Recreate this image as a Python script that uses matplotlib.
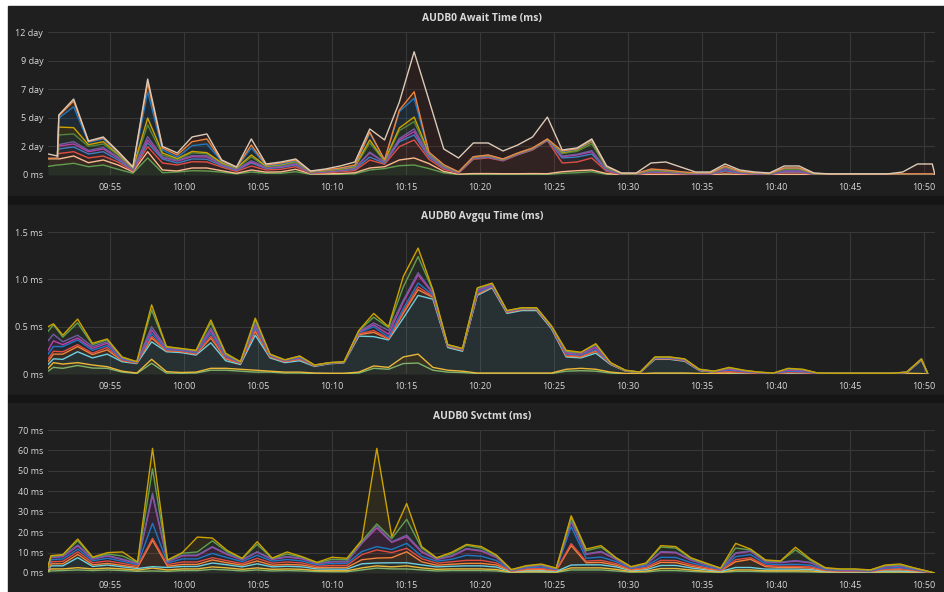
import numpy as np
import pandas as pd
import matplotlib
matplotlib.use("Agg")
import matplotlib.pyplot as plt
import matplotlib.dates as mdates
from matplotlib.patches import Rectangle
from matplotlib.ticker import FuncFormatter, FixedLocator

plt.rcParams['font.family'] = ['Open Sans', 'DejaVu Sans']

DAY = '2017-06-01 '

def build_times(lead, start, n, step_s, trail):
    reg = pd.date_range(DAY + start, periods=n, freq=pd.Timedelta(seconds=step_s))
    idx = pd.DatetimeIndex([pd.Timestamp(DAY + s) for s in lead]).append(reg)
    return idx.append(pd.DatetimeIndex([pd.Timestamp(DAY + trail)]))

# ---------------- Panel 1: AUDB0 Await Time (values in 1e6 ms) ----------------
await_times = build_times(['09:50:49', '09:51:27'], '09:51:33', 60, 60, '10:50:44')
await_series = {
    'green':  [60, 70,
               70, 82, 58, 70, 40, 12, 119, 16, 21, 30,
               28, 20, 8, 21, 12, 12, 23, 5, 4, 5,
               8, 35, 45, 65, 70, 45, 15, 3, 5, 5,
               4, 4, 4, 4, 12, 16, 23, 5, 1, 1,
               2, 2, 1, 1, 1, 3, 2, 1, 1, 2,
               2, 1, 1, 1, 1, 1, 1, 1, 1, 1, 0],
    'peach':  [55, 45,
               42, 51, 28, 35, 30, 10, 44, 19, 7, 19,
               21, 10, 4, 14, 8, 10, 17, 3, 4, 5,
               8, 14, 13, 40, 49, 35, 10, 3, 5, 5,
               5, 5, 6, 5, 11, 14, 12, 5, 1, 1,
               3, 3, 2, 1, 1, 4, 2, 1, 1, 3,
               3, 1, 1, 1, 1, 1, 1, 1, 1, 1, 0],
    'red':    [0, 0,
               38, 30, 33, 28, 20, 6, 35, 49, 42, 44,
               42, 25, 13, 28, 15, 18, 18, 4, 8, 12,
               15, 56, 17, 93, 126, 30, 15, 6, 100, 110,
               90, 132, 165, 232, 61, 61, 84, 15, 2, 2,
               10, 8, 5, 3, 3, 16, 6, 4, 2, 12,
               12, 2, 1, 1, 1, 1, 1, 1, 1, 1, 0],
    'blue':   [0, 0,
               32, 33, 28, 30, 15, 5, 26, 28, 14, 19,
               19, 10, 7, 21, 10, 12, 12, 3, 5, 7,
               10, 21, 7, 35, 35, 15, 10, 3, 5, 5,
               3, 3, 3, 2, 35, 35, 28, 8, 1, 1,
               5, 4, 3, 2, 2, 7, 3, 2, 1, 5,
               5, 1, 1, 1, 1, 1, 1, 1, 1, 1, 0],
    'magenta': [0, 0,
               21, 21, 16, 19, 13, 4, 21, 10, 14, 16,
               16, 7, 6, 7, 5, 6, 8, 2, 3, 4,
               6, 28, 6, 12, 23, 10, 5, 2, 5, 5,
               3, 3, 3, 2, 9, 14, 16, 5, 1, 1,
               4, 3, 2, 1, 1, 12, 4, 2, 1, 6,
               6, 1, 0, 0, 0, 0, 0, 0, 0, 0, 0],
    'violet': [0, 0,
               10, 16, 9, 10, 7, 3, 23, 4, 4, 8,
               9, 4, 3, 9, 3, 4, 4, 1, 2, 2,
               3, 6, 2, 10, 19, 5, 3, 1, 2, 2,
               1, 1, 1, 1, 5, 5, 7, 3, 1, 1,
               2, 2, 1, 1, 1, 3, 1, 1, 1, 2,
               2, 1, 0, 0, 0, 0, 0, 0, 0, 0, 0],
    'green2': [0, 0,
               67, 54, 28, 25, 13, 4, 82, 14, 6, 19,
               13, 6, 4, 26, 5, 6, 8, 2, 3, 4,
               6, 64, 6, 55, 51, 8, 4, 1, 2, 3,
               2, 2, 2, 2, 17, 20, 47, 8, 1, 1,
               5, 4, 3, 2, 2, 10, 4, 2, 1, 10,
               10, 1, 1, 1, 1, 1, 1, 1, 1, 1, 0],
    'yellow': [0, 0,
               55, 44, 12, 16, 8, 3, 48, 14, 7, 10,
               8, 4, 3, 14, 4, 4, 6, 2, 2, 3,
               4, 21, 4, 19, 32, 4, 3, 1, 1, 2,
               1, 1, 1, 1, 6, 10, 16, 5, 1, 1,
               4, 3, 2, 1, 1, 3, 2, 1, 1, 6,
               6, 1, 1, 1, 1, 1, 1, 1, 1, 1, 0],
    'blue2':  [0, 0,
               63, 146, 16, 19, 9, 3, 184, 21, 10, 40,
               61, 9, 3, 49, 4, 5, 4, 2, 3, 4,
               5, 49, 3, 114, 131, 3, 3, 1, 2, 2,
               2, 2, 2, 2, 6, 5, 7, 3, 1, 1,
               4, 3, 2, 1, 1, 2, 1, 1, 1, 2,
               2, 1, 1, 1, 1, 1, 1, 1, 1, 1, 0],
    'orange': [0, 0,
               15, 40, 6, 8, 5, 3, 61, 14, 15, 28,
               35, 5, 3, 21, 4, 7, 5, 2, 2, 3,
               5, 7, 3, 11, 46, 5, 4, 1, 1, 1,
               1, 1, 2, 1, 6, 4, 6, 3, 1, 1,
               3, 3, 2, 1, 1, 2, 1, 1, 1, 1,
               1, 1, 0, 0, 0, 0, 0, 1, 1, 1, 0],
    'beige':  [32, 18,
               7, 14, 4, 6, 5, 3, 28, 11, 14, 33,
               35, 5, 2, 42, 7, 7, 7, 2, 6, 14,
               21, 21, 139, 56, 280, 364, 110, 97, 96, 84,
               56, 56, 77, 153, 7, 5, 6, 3, 3, 3,
               42, 56, 33, 7, 7, 15, 9, 5, 3, 14,
               14, 3, 1, 1, 1, 1, 1, 13, 69, 69, 0],
}
await_lines = ['#629E51', '#F9BA8F', '#E24D42', '#447EBC', '#BA43A9', '#705DA0',
               '#508642', '#CCA300', '#1F78C1', '#EF843C', '#DCCAB6']
await_fills = ['#629E51', '#E0752D', '#E24D42', '#447EBC', '#BA43A9', '#705DA0',
               '#508642', '#CCA300', '#1F78C1', '#EF843C', '#6A1A14']
await_alpha = [0.14, 0.12, 0.10, 0.12, 0.12, 0.12, 0.14, 0.12, 0.13, 0.12, 0.15]

# ---------------- Panel 2: AUDB0 Avgqu Time (ms) ----------------
avgqu_times = build_times(['09:50:49', '09:51:11'], '09:51:49', 59, 60, '10:50:15')
avgqu_series = {
    'green':  [.03, .07,
               .06, .09, .063, .06, .02, .005, .113, .01, .008, .01,
               .04, .04, .03, .02, .02, .01, .01, .005, .004, .004,
               .01, .06, .05, .11, .116, .04, .02, .015, .005, .005,
               .005, .005, .005, .005, .03, .035, .03, .01, .003, .002,
               .005, .005, .005, .003, .002, .003, .002, .001, .001, .002,
               .002, .001, .001, .001, .001, .001, .001, .002, .002, 0],
    'yellow': [.03, .05,
               .045, .03, .032, .017, .01, .005, .042, .015, .008, .01,
               .02, .02, .02, .02, .01, .01, .01, .005, .004, .004,
               .01, .025, .02, .07, .094, .03, .02, .015, .005, .005,
               .005, .005, .005, .005, .02, .025, .02, .01, .003, .002,
               .005, .005, .005, .003, .002, .003, .002, .001, .001, .002,
               .002, .001, .001, .001, .001, .001, .001, .006, .003, 0],
    'cyan':   [.04, .04,
               .05, .115, .075, .133, .10, .10, .185, .21, .21, .18,
               .27, .08, .05, .37, .14, .10, .12, .07, .10, .11,
               .38, .31, .29, .41, .62, .72, .24, .21, .82, .90,
               .63, .66, .66, .47, .13, .11, .17, .08, .025, .01,
               .145, .145, .125, .03, .015, .01, .005, .003, .002, .005,
               .004, .002, .002, .002, .002, .002, .002, .005, .14, 0],
    'orange': [.03, .05,
               .055, .055, .035, .045, .01, .005, .04, .01, .01, .01,
               .05, .02, .01, .04, .01, .01, .015, .005, .004, .004,
               .015, .045, .01, .05, .06, .02, .01, .01, .01, .01,
               .01, .01, .01, .01, .01, .01, .02, .005, .002, .001,
               .005, .005, .005, .003, .002, .005, .004, .002, .001, .005,
               .004, .001, .001, .001, .001, .001, .001, .002, .003, 0],
    'red':    [.03, .03,
               .025, .02, .015, .025, .005, .003, .02, .005, .005, .005,
               .02, .01, .005, .02, .005, .004, .005, .002, .002, .002,
               .01, .02, .005, .02, .03, .01, .005, .005, .01, .005,
               .005, .005, .005, .005, .01, .01, .01, .003, .001, .001,
               .003, .003, .003, .002, .002, .005, .004, .002, .001, .005,
               .004, .001, .001, .001, .001, .001, .001, .001, .002, 0],
    'blue':   [.05, .05,
               .055, .05, .03, .02, .01, .004, .03, .01, .008, .01,
               .03, .015, .005, .025, .008, .006, .01, .003, .002, .002,
               .01, .04, .015, .03, .04, .015, .005, .005, .01, .005,
               .005, .005, .005, .005, .01, .01, .01, .003, .002, .001,
               .004, .004, .004, .002, .002, .015, .008, .004, .001, .01,
               .008, .001, .001, .001, .001, .001, .001, .001, .002, 0],
    'magenta': [.04, .06,
               .02, .02, .02, .025, .01, .004, .035, .01, .008, .01,
               .03, .01, .004, .02, .007, .004, .01, .002, .002, .002,
               .01, .02, .03, .07, .086, .015, .005, .005, .02, .01,
               .003, .004, .004, .004, .01, .01, .02, .003, .001, .001,
               .005, .005, .005, .003, .002, .01, .006, .003, .001, .012,
               .01, .001, .001, .001, .001, .001, .001, .001, .002, 0],
    'violet': [.10, .07,
               .03, .03, .02, .015, .005, .002, .035, .005, .005, .005,
               .025, .005, .002, .015, .003, .002, .005, .001, .001, .001,
               .005, .02, .04, .02, .024, .01, .002, .002, .01, .01,
               .003, .002, .002, .002, .01, .01, .02, .003, .001, .001,
               .004, .004, .004, .002, .002, .01, .005, .002, .001, .01,
               .008, .001, 0, 0, 0, 0, 0, .001, .002, 0],
    'green2': [.10, .10,
               .05, .13, .02, .02, .005, .001, .176, .01, .005, .007,
               .055, .01, .002, .04, .004, .002, .003, .001, .0005, .0005,
               .007, .06, .03, .14, .17, .02, .002, .002, .015, .005,
               .002, .002, .002, .002, .01, .005, .015, .002, .001, .0005,
               .002, .002, .002, .001, .0005, .005, .002, .001, .0005, .005,
               .004, .0005, 0, 0, 0, 0, 0, .0005, .002, 0],
    'yellow2': [.05, .01,
               .02, .04, .015, .01, .005, .001, .054, .005, .003, .003,
               .03, .01, .002, .02, .003, .002, .002, .001, .0005, .0005,
               .003, .04, .01, .11, .09, .01, .001, .001, .005, .005,
               .002, .002, .002, .002, .01, .005, .005, .001, .001, .0005,
               .002, .002, .002, .001, .0005, .004, .002, .001, .0005, .004,
               .004, .0005, 0, 0, 0, 0, 0, .0005, .002, 0],
}

# ---------------- Panel 3: AUDB0 Svctmt (ms) ----------------
svc_times = build_times(['09:50:49', '09:51:01'], '09:51:49', 59, 60.6, '10:50:42')
svc_series = {
    'green':  [0.5, 1.0,
               1.2, 1.5, 1.2, 1.5, 1.2, 0.8, 1.0, 0.8, 1.2, 1.2,
               1.8, 1.5, 1.0, 1.5, 1.0, 1.2, 1.0, 0.7, 0.6, 0.6,
               1.5, 2.4, 2.0, 2.0, 1.5, 1.0, 1.2, 1.2, 1.2, 1.0,
               0.2, 0.4, 0.4, 0.3, 1.5, 1.5, 1.5, 1.0, 0.4, 0.5,
               1.2, 1.2, 0.8, 0.5, 0.3, 0.8, 0.8, 0.6, 0.6, 0.6,
               0.5, 0.3, 0.2, 0.2, 0.15, 0.3, 0.3, 0.2, 0.05, 0],
    'yellow': [0.5, 1.0,
               0.8, 1.1, 0.8, 0.9, 0.8, 0.6, 1.4, 0.7, 0.8, 0.8,
               1.2, 1.0, 0.8, 1.0, 0.8, 0.8, 0.8, 0.5, 0.5, 0.5,
               1.0, 1.1, 1.0, 1.5, 1.0, 0.8, 0.8, 0.8, 0.8, 0.7,
               0.2, 0.3, 0.3, 0.2, 1.0, 1.0, 1.0, 0.8, 0.3, 0.4,
               1.0, 1.0, 0.7, 0.4, 0.2, 0.7, 0.7, 0.5, 0.5, 0.5,
               0.5, 0.2, 0.2, 0.2, 0.15, 0.3, 0.3, 0.2, 0.05, 0],
    'cyan':   [0.5, 1.5,
               1.5, 4.9, 1.2, 1.5, 1.0, 0.8, 0.7, 1.2, 1.2, 1.2,
               1.9, 1.5, 1.2, 2.0, 1.2, 1.3, 1.2, 0.8, 0.8, 0.8,
               2.0, 1.4, 2.0, 1.5, 1.5, 1.2, 1.3, 1.5, 1.5, 1.2,
               0.2, 0.5, 0.5, 0.3, 1.4, 1.5, 1.5, 1.2, 0.5, 0.7,
               1.5, 1.5, 1.0, 0.7, 0.3, 1.2, 1.2, 0.8, 0.8, 0.8,
               0.7, 0.3, 0.2, 0.2, 0.2, 0.4, 0.4, 0.3, 0.1, 0],
    'orange': [0.3, 1.0,
               1.0, 1.6, 0.8, 0.8, 0.7, 0.5, 12.9, 0.6, 1.0, 1.0,
               1.5, 1.0, 0.8, 1.4, 0.8, 0.9, 0.9, 0.6, 0.8, 0.8,
               2.0, 2.4, 2.5, 5.4, 1.5, 0.8, 1.0, 1.2, 1.2, 1.0,
               0.2, 0.4, 0.5, 0.3, 9.5, 1.0, 1.2, 0.8, 0.3, 0.6,
               1.5, 1.4, 0.8, 0.5, 0.3, 2.8, 4.0, 1.2, 0.8, 0.8,
               0.7, 0.3, 0.2, 0.2, 0.15, 0.5, 0.6, 0.3, 0.05, 0],
    'red':    [0.3, 1.0,
               1.2, 1.3, 1.0, 1.2, 1.0, 0.7, 1.0, 0.8, 1.2, 1.2,
               1.1, 1.0, 0.8, 1.3, 1.0, 1.2, 1.0, 0.7, 1.0, 1.0,
               2.5, 4.0, 2.5, 1.7, 1.5, 1.0, 1.2, 1.5, 1.5, 1.0,
               0.2, 0.5, 0.6, 0.3, 1.0, 0.8, 1.0, 0.8, 0.4, 0.6,
               1.0, 1.0, 0.8, 0.6, 0.3, 1.0, 0.8, 0.6, 0.6, 0.6,
               0.6, 0.3, 0.2, 0.2, 0.15, 0.5, 0.6, 0.3, 0.05, 0],
    'blue':   [0.3, 1.0,
               1.2, 1.3, 1.0, 1.3, 1.0, 0.7, 7.3, 0.8, 1.5, 1.5,
               2.1, 1.5, 1.0, 1.5, 1.0, 1.2, 1.0, 0.7, 1.0, 1.0,
               1.5, 1.6, 1.5, 2.4, 1.2, 1.0, 1.2, 2.5, 2.0, 1.2,
               0.2, 0.5, 0.6, 0.3, 8.3, 1.4, 1.6, 1.0, 0.4, 0.6,
               1.5, 1.5, 1.0, 0.6, 0.3, 1.5, 1.5, 0.8, 0.8, 1.0,
               0.8, 0.3, 0.2, 0.2, 0.15, 0.4, 0.5, 0.3, 0.05, 0],
    'magenta': [0.2, 1.0,
               1.1, 1.5, 0.8, 1.1, 0.8, 0.5, 13.7, 0.6, 1.5, 1.6,
               3.0, 1.5, 0.8, 1.5, 0.8, 1.2, 1.0, 0.6, 0.8, 0.8,
               4.0, 9.1, 3.5, 3.3, 2.0, 0.8, 1.4, 3.0, 2.5, 1.5,
               0.2, 0.5, 0.7, 0.3, 2.3, 1.9, 2.5, 1.0, 0.4, 0.7,
               2.5, 2.3, 1.2, 0.8, 0.3, 1.6, 1.6, 0.9, 1.0, 1.5,
               1.2, 0.4, 0.3, 0.3, 0.2, 0.6, 0.7, 0.4, 0.1, 0],
    'violet': [0.1, 0.3,
               0.3, 0.5, 0.3, 0.3, 0.3, 0.2, 1.0, 0.2, 0.3, 0.3,
               0.3, 0.3, 0.2, 0.2, 0.3, 0.3, 0.3, 0.2, 0.2, 0.2,
               0.3, 1.0, 0.3, 0.7, 0.5, 0.3, 0.3, 0.3, 0.3, 0.3,
               0.05, 0.1, 0.2, 0.1, 0.5, 0.3, 0.3, 0.3, 0.1, 0.2,
               0.3, 0.3, 0.3, 0.2, 0.1, 0.3, 0.2, 0.2, 0.2, 0.3,
               0.2, 0.1, 0.1, 0.1, 0.05, 0.2, 0.2, 0.1, 0.05, 0],
    'green2': [0.2, 0.4,
               0.4, 2.0, 0.4, 0.7, 1.5, 0.3, 12.0, 0.4, 1.0, 1.5,
               2.8, 1.0, 0.4, 3.6, 0.2, 1.2, 0.5, 0.2, 1.0, 0.8,
               0.8, 1.0, 1.5, 7.8, 1.5, 0.4, 1.0, 1.5, 1.2, 0.5,
               0.1, 0.2, 0.3, 0.2, 1.5, 1.5, 2.0, 0.4, 0.2, 0.3,
               2.2, 2.0, 0.5, 0.3, 0.2, 2.3, 0.5, 0.5, 0.4, 5.2,
               1.0, 0.2, 0.2, 0.2, 0.15, 0.4, 0.4, 0.2, 0.05, 0],
    'yellow2': [0.1, 0.3,
               0.3, 0.9, 0.3, 0.7, 2.0, 0.3, 10.0, 0.3, 0.3, 7.3,
               1.4, 0.7, 0.2, 1.3, 0.2, 1.0, 0.3, 0.2, 1.0, 0.7,
               0.5, 37.0, 1.0, 7.7, 0.7, 0.2, 0.7, 0.5, 0.7, 0.4,
               0.15, 0.2, 0.3, 0.1, 1.0, 0.8, 0.8, 0.2, 0.1, 0.3,
               0.7, 0.7, 0.4, 0.3, 0.1, 2.3, 0.4, 0.3, 0.2, 1.3,
               0.6, 0.2, 0.2, 0.2, 0.15, 0.3, 0.4, 0.1, 0.05, 0],
}
disk_lines = ['#7EB26D', '#EAB839', '#6ED0E0', '#EF843C', '#E24D42', '#1F78C1',
              '#BA43A9', '#705DA0', '#629E51', '#CCA300']
disk_alpha = [0.12, 0.12, 0.10, 0.12, 0.12, 0.12, 0.14, 0.14, 0.10, 0.09]

titles = ['AUDB0 Await Time (ms)', 'AUDB0 Avgqu Time (ms)', 'AUDB0 Svctmt (ms)']

# ---------------- Figure / layout ----------------
W, H = 944, 592
fig = plt.figure(figsize=(W / 100, H / 100), dpi=100, facecolor='white')

def frect(x0, y0, x1, y1, color):
    fig.patches.append(Rectangle((x0 / W, 1 - y1 / H), (x1 - x0) / W, (y1 - y0) / H,
                                 transform=fig.transFigure, color=color, zorder=-10))

PANEL_BG = '#1f1f20'
GAP_BG = '#151515'
frect(8, 6, W, 196, PANEL_BG)
frect(8, 196, W, 205, GAP_BG)
frect(8, 205, W, 395, PANEL_BG)
frect(8, 395, W, 403, GAP_BG)
frect(8, 403, W, H, PANEL_BG)

TXT = '#d8d9da'
x0_px, x1_px = 48, 935
panel_geom = [(32, 175, 18), (232, 374, 217), (430, 573, 417)]

xmin = mdates.date2num(pd.Timestamp(DAY + '09:50:49'))
xmax = mdates.date2num(pd.Timestamp(DAY + '10:50:44'))

def make_ax(top, bottom):
    ax = fig.add_axes([x0_px / W, 1 - bottom / H, (x1_px - x0_px) / W, (bottom - top) / H])
    ax.set_zorder(5)
    ax.patch.set_visible(False)
    for s in ax.spines.values():
        s.set_visible(False)
    ax.set_axisbelow(True)
    ax.grid(True, color='#383838', lw=0.8)
    ax.tick_params(length=0, colors=TXT, labelsize=6.5)
    ax.tick_params(axis='x', pad=5.5)
    ax.tick_params(axis='y', pad=3.5)
    ax.xaxis.set_major_locator(mdates.MinuteLocator(byminute=range(0, 60, 5)))
    ax.xaxis.set_major_formatter(mdates.DateFormatter('%H:%M'))
    ax.set_xlim(xmin, xmax)
    return ax

def draw_stack(ax, times, series, line_colors, fill_colors, alphas):
    t = mdates.date2num(times)
    vals = np.array([series[k] for k in series], dtype=float)
    cum = np.cumsum(vals, axis=0)
    lower = np.zeros_like(cum[0])
    for i in range(len(cum)):
        ax.fill_between(t, lower, cum[i], color=fill_colors[i], alpha=alphas[i], lw=0, zorder=2)
        lower = cum[i]
    for i in range(len(cum)):
        ax.plot(t, cum[i], color=line_colors[i], lw=1.0, zorder=3 + i * 0.01)

# Panel 1
ax1 = make_ax(*panel_geom[0][:2])
draw_stack(ax1, await_times, await_series, await_lines, await_fills, await_alpha)
ax1.set_ylim(0, 1000)
ax1.yaxis.set_major_locator(FixedLocator([0, 200, 400, 600, 800, 1000]))
ax1.yaxis.set_major_formatter(FuncFormatter(
    lambda v, p: '0 ms' if v == 0 else f"{round(v * 1e6 / 86400000)} day"))

# Panel 2
ax2 = make_ax(*panel_geom[1][:2])
draw_stack(ax2, avgqu_times, avgqu_series, disk_lines, disk_lines, disk_alpha)
ax2.set_ylim(0, 1.5)
ax2.yaxis.set_major_locator(FixedLocator([0, 0.5, 1.0, 1.5]))
ax2.yaxis.set_major_formatter(FuncFormatter(
    lambda v, p: '0 ms' if v == 0 else f"{v:.1f} ms"))

# Panel 3
ax3 = make_ax(*panel_geom[2][:2])
draw_stack(ax3, svc_times, svc_series, disk_lines, disk_lines, disk_alpha)
ax3.set_ylim(0, 70)
ax3.yaxis.set_major_locator(FixedLocator(list(range(0, 71, 10))))
ax3.yaxis.set_major_formatter(FuncFormatter(lambda v, p: f"{int(v)} ms"))

for (top, bottom, ty), title in zip(panel_geom, titles):
    fig.text(482 / W, 1 - ty / H, title, ha='center', va='center', fontsize=7.4,
             fontweight='bold', color=TXT, zorder=6)

fig.savefig('out.png', dpi=100, facecolor='white')
